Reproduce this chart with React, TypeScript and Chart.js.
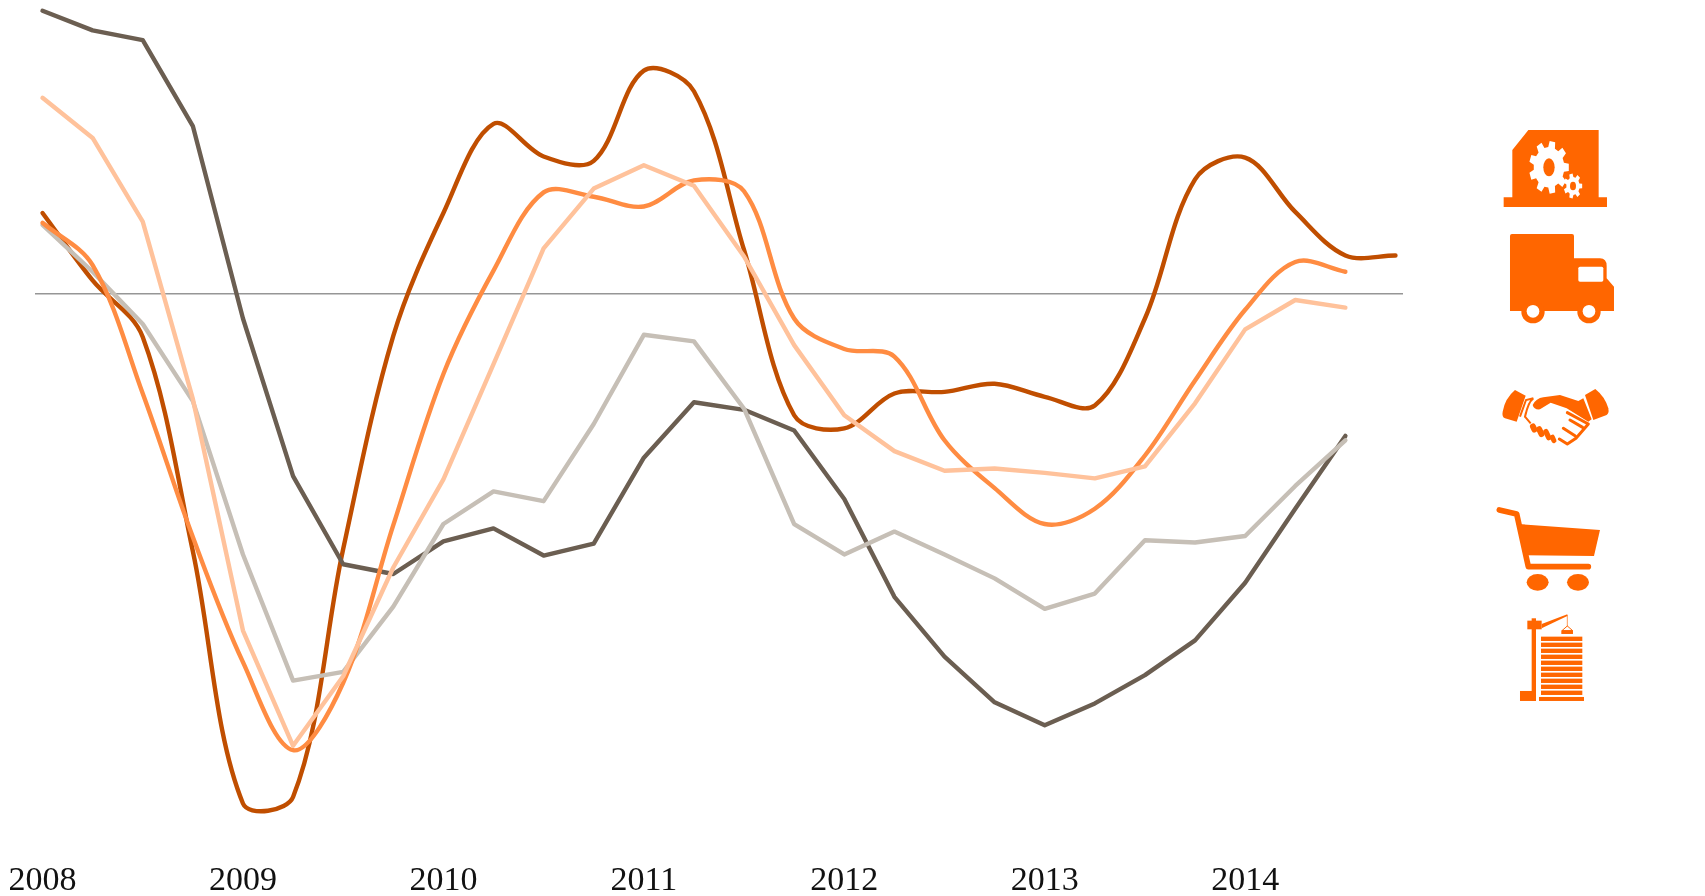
import React, { useEffect, useRef } from "react";
import { Chart, registerables } from "chart.js";

Chart.register(...registerables);

const yearLabels = ["2008", "2009", "2010", "2011", "2012", "2013", "2014"];
const yearPositions = [0, 4, 8, 12, 16, 20, 24];

const darkBrown = [26, 24.2, 23.3, 15.4, -2.3, -16.8, -24.9, -25.8, -22.8, -21.6, -24.1, -23, -15.1, -10, -10.7, -12.6, -18.9, -27.9, -33.4, -37.6, -39.7, -37.7, -35.1, -31.9, -26.6, -19.8, -13.1];
const peach = [18, 14.3, 6.6, -9.7, -31, -41.6, -35.2, -25.2, -17.1, -6.5, 4.15, 9.65, 11.8, 9.9, 3.4, -4.75, -11.2, -14.5, -16.3, -16.1, -16.5, -17, -15.9, -10.1, -3.3, -0.6, -1.3];
const warmGrey = [6.3, 2, -2.8, -9.9, -24, -35.6, -34.8, -28.8, -21.2, -18.2, -19.1, -12, -3.8, -4.4, -10.6, -21.2, -24, -21.9, -24, -26.2, -29, -27.6, -22.7, -22.9, -22.3, -17.7, -13.5];
const burnt = [7.4, 1.2, -4, -23.7, -46.9, -46.3, -23.5, -3.9, 7.4, 15.6, 12.6, 12.2, 20.5, 18.6, 4, -11.2, -12.4, -9.2, -9.05, -8.3, -9.5, -10.3, -2.3, 10.5, 12.5, 7.5, 3.5, 3.5];
const orange = [6.5, 2.6, -9.2, -22.4, -33.9, -42, -35.8, -21.3, -7.4, 2.1, 9.3, 8.9, 8.0, 10.4, 9.4, -2.3, -5.1, -5.8, -13.5, -17.9, -21.2, -19.8, -14.9, -8, -1.5, 2.9, 2];

// Chart.js paints the first dataset on top.
const series = [
  { name: "Transport", values: peach, color: "#ffc29b", tension: 0 },
  { name: "Construction", values: orange, color: "#ff8c42", tension: 0.34 },
  { name: "Retail", values: warmGrey, color: "#c6bfb6", tension: 0 },
  { name: "Industry", values: darkBrown, color: "#6b5e51", tension: 0 },
  { name: "Services", values: burnt, color: "#c04e00", tension: 0.34 },
];

function gearPoints(cx: number, cy: number, rOut: number, rIn: number, teeth: number, sy: number) {
  const pts: string[] = [];
  const step = (Math.PI * 2) / teeth;
  for (let i = 0; i < teeth; i++) {
    const a = i * step;
    const list: [number, number][] = [
      [rIn, a - step * 0.32],
      [rOut, a - step * 0.2],
      [rOut, a + step * 0.2],
      [rIn, a + step * 0.32],
    ];
    list.forEach(([r, t]) => pts.push(`${cx + r * Math.cos(t)},${cy + sy * r * Math.sin(t)}`));
  }
  return pts.join(" ");
}

const ICON = "#ff6600";

function Icons() {
  const stripes = [800, 818, 836, 854, 872, 890, 908, 926, 944, 962];
  return (
    <svg width={1705} height={896} style={{ position: "absolute", left: 0, top: 0, pointerEvents: "none" }}>
      <g transform="translate(1460,110) scale(0.3333)" fill={ICON}>
        <polygon points="157,120 205,60 416,60 416,262 441,262 441,291 131,291 131,262 157,262" />
        <polygon points={gearPoints(267, 172, 60, 46, 9, 1.32)} fill="#fff" />
        <ellipse cx={267} cy={172} rx={17} ry={27} />
        <polygon points={gearPoints(339, 228, 28, 20, 7, 1.35)} fill="#fff" />
        <ellipse cx={339} cy={228} rx={9} ry={13} />

        <path d="M156,372 H336 Q342,372 342,378 V445 H420 Q440,445 440,468 V505 L462,530 V603 H150 V378 Q150,372 156,372 Z" />
        <rect x={355} y={470} width={75} height={45} rx={5} fill="#fff" />
        <circle cx={219} cy={605} r={35} />
        <circle cx={387} cy={605} r={35} />
        <circle cx={219} cy={604} r={19} fill="#fff" />
        <circle cx={387} cy={604} r={19} fill="#fff" />
      </g>
      <g transform="translate(1460,370) scale(0.3333)" fill={ICON}>
        <path d="M165,60 L197,77 L170,155 L135,145 Q125,140 128,125 Q135,85 165,60 Z" />
        <path d="M406,57 L375,75 L400,150 L440,135 Q448,130 445,115 Q435,80 406,57 Z" />
        <path d="M218,105 Q228,85 250,82 L300,75 L355,93 L370,85 L395,148 L385,155 L320,115 L272,98 L240,118 Q222,120 218,105 Z" />
        <path d="M180,140 L198,90 L220,85 Q205,95 195,140 L212,160" fill="none" stroke={ICON} strokeWidth={6} />
        <rect x={212} y={160} width={18} height={28} rx={9} transform="rotate(-25 221 174)" />
        <rect x={232} y={168} width={18} height={34} rx={9} transform="rotate(-25 241 185)" />
        <rect x={254} y={176} width={16} height={36} rx={8} transform="rotate(-25 262 194)" />
        <rect x={272} y={194} width={15} height={26} rx={7} transform="rotate(-25 279 207)" />
        <path d="M322,128 L385,162 L348,205 L322,222 L298,207 M310,175 L345,197 M330,150 L368,172" fill="none" stroke={ICON} strokeWidth={9} strokeLinecap="round" strokeLinejoin="round" />

        <path d="M118,420 L170,432 L205,590 L385,590" fill="none" stroke={ICON} strokeWidth={17} strokeLinecap="round" strokeLinejoin="round" />
        <polygon points="175,462 420,480 402,558 195,556" />
        <ellipse cx={233} cy={637} rx={33} ry={25} />
        <ellipse cx={354} cy={637} rx={33} ry={25} />

        <rect x={180} y={963} width={48} height={30} />
        <rect x={215} y={745} width={13} height={248} />
        <rect x={202} y={752} width={43} height={26} />
        <polygon points="245,762 322,733 322,738 245,775" />
        <line x1={322} y1={735} x2={322} y2={770} stroke={ICON} strokeWidth={2} />
        <polygon points="322,768 338,782 306,782" fill="none" stroke={ICON} strokeWidth={3} />
        <rect x={304} y={781} width={35} height={11} />
        {stripes.map((s) => (
          <rect key={s} x={243} y={s} width={124} height={13} />
        ))}
        <rect x={237} y={981} width={135} height={12} />
      </g>
    </svg>
  );
}

export default function App() {
  const ref = useRef<HTMLCanvasElement>(null);
  useEffect(() => {
    document.body.style.margin = "0";
    document.body.style.background = "#fff";
    const chart = new Chart(ref.current as HTMLCanvasElement, {
      type: "line",
      data: {
        datasets: series.map((s) => ({
          label: s.name,
          data: s.values.map((v, i) => ({ x: i, y: v })),
          borderColor: s.color,
          borderWidth: 4.4,
          tension: s.tension,
          pointRadius: 0,
          borderCapStyle: "round" as const,
          borderJoinStyle: "round" as const,
          fill: false,
        })),
      },
      options: {
        responsive: false,
        animation: false,
        layout: { padding: { left: 35, right: 302, top: 0, bottom: 0 } },
        plugins: { legend: { display: false }, tooltip: { enabled: false }, title: { display: false } },
        scales: {
          x: {
            type: "linear",
            min: -0.15,
            max: 27.15,
            grid: { display: false },
            border: { display: false },
            afterBuildTicks: (axis: any) => {
              axis.ticks = yearPositions.map((value) => ({ value }));
            },
            afterFit: (axis: any) => {
              axis.paddingLeft = 0;
              axis.paddingRight = 0;
              axis.height = 56;
            },
            ticks: {
              autoSkip: false,
              maxRotation: 0,
              padding: 13,
              color: "#111",
              font: { family: "'Liberation Serif', serif", size: 34 },
              callback: (v: any) => yearLabels[yearPositions.indexOf(Number(v))] ?? "",
            },
          },
          y: {
            min: -50.26,
            max: 26.99,
            afterBuildTicks: (axis: any) => {
              axis.ticks = [{ value: 0 }];
            },
            ticks: { display: false },
            border: { display: false },
            grid: { color: "#969696", lineWidth: 1.4, drawTicks: false },
          },
        },
      } as any,
    });
    return () => chart.destroy();
  }, []);
  return (
    <div style={{ position: "relative", width: 1705, height: 896, overflow: "hidden" }}>
      <canvas ref={ref} width={1705} height={896} style={{ display: "block" }} />
      <Icons />
    </div>
  );
}
